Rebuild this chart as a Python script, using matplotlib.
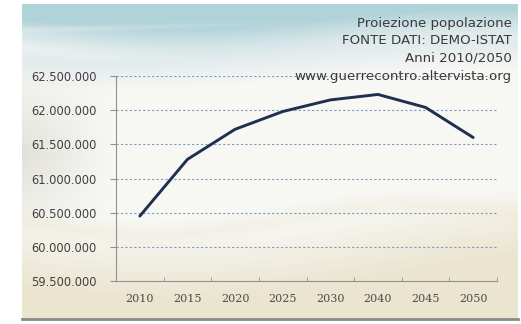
import numpy as np
import matplotlib
matplotlib.use("Agg")
import matplotlib.pyplot as plt
from matplotlib.ticker import FuncFormatter, FixedLocator

# Projected Italian resident population (DEMO-ISTAT)
years = ["2010", "2015", "2020", "2025", "2030", "2040", "2045", "2050"]
population = [60450000, 61280000, 61720000, 61980000, 62150000, 62230000, 62040000, 61600000]

y_ticks = [59500000, 60000000, 60500000, 61000000, 61500000, 62000000, 62500000]

title_lines = [
    "Proiezione popolazione",
    "FONTE DATI: DEMO-ISTAT",
    "Anni 2010/2050",
    "www.guerrecontro.altervista.org",
]

W, H = 521, 324
fig = plt.figure(figsize=(W / 100, H / 100), dpi=100)
fig.patch.set_facecolor("white")

# ---- decorative sky / sand backdrop ----
fx0, fy0, fx1, fy1 = 22, 4, 518, 320
bw, bh = fx1 - fx0, fy1 - fy0
yy, xx = np.mgrid[0:bh, 0:bw].astype(float)
u = xx / bw
v = yy / bh

def rgb(h):
    h = h.lstrip("#")
    return np.array([int(h[i:i + 2], 16) / 255 for i in (0, 2, 4)])

sky = rgb("#b0d2d9")
mist = rgb("#e2ebed")
white = rgb("#f7f7f4")
sand = rgb("#ebe5cf")
grey = rgb("#d9d7cd")

img = np.zeros((bh, bw, 3))
# vertical blend: sky -> mist -> white -> sand
t_sky = np.clip(1 - (yy - 14 - 10 * np.sin(u * 5.0)) / 30, 0, 1)
t_mist = np.clip(1 - np.abs(yy - 48 - 10 * np.sin(u * 4 + 1)) / 28, 0, 1)
t_sand = np.clip((yy - 200 - 25 * np.sin(u * 3.5 + 0.5)) / 70, 0, 1)
img[:] = white
img = img * (1 - t_mist[..., None]) + mist * t_mist[..., None]
img = img * (1 - t_sky[..., None]) + sky * t_sky[..., None]
# lighter streak through the sky
t_streak = 0.6 * np.clip(1 - np.abs(yy - 26 + 14 * u) / 5, 0, 1) * np.clip(1 - u * 1.6, 0, 1)
img = img * (1 - t_streak[..., None]) + mist * t_streak[..., None]
img = img * (1 - t_sand[..., None]) + sand * t_sand[..., None]
# soft grey shading on the left edge
t_grey = np.clip(1 - xx / 90, 0, 1) * np.clip(1 - np.abs(yy - 150) / 90, 0, 1)
img = img * (1 - 0.7 * t_grey[..., None]) + grey * 0.7 * t_grey[..., None]
# faint beige band across the middle
t_band = 0.35 * np.clip(1 - np.abs(yy - 215 - 15 * np.sin(u * 6)) / 14, 0, 1)
img = img * (1 - t_band[..., None]) + sand * t_band[..., None]

bg = fig.add_axes([fx0 / W, 1 - fy1 / H, bw / W, bh / H])
bg.imshow(np.clip(img, 0, 1), aspect="auto", interpolation="bilinear")
bg.set_axis_off()
# frame shadow at the bottom
fig.add_artist(plt.Line2D([fx0 / W, fx1 / W], [1 - (fy1 - 1) / H] * 2,
                          color="#8a8a8a", lw=2.0, transform=fig.transFigure))

# ---- plot area ----
left, right, top, bottom = 116, 497, 76, 281
ax = fig.add_axes([left / W, 1 - bottom / H, (right - left) / W, (bottom - top) / H])
ax.patch.set_alpha(0)

x = np.arange(len(years))
ax.plot(x, population, color="#1f2f4f", lw=2.1, solid_capstyle="round", zorder=3)

ax.set_xlim(-0.5, len(years) - 0.5)
ax.set_ylim(y_ticks[0], y_ticks[-1])
ax.set_yticks(y_ticks)
ax.yaxis.set_major_formatter(FuncFormatter(lambda v, p: f"{int(v):,}".replace(",", ".")))

for yv in y_ticks[1:]:
    ax.axhline(yv, color="#7d9cbc", lw=0.8, ls=(0, (2.0, 2.0)), zorder=1)

ax.set_xticks(x)
ax.set_xticklabels(years)
ax.xaxis.set_minor_locator(FixedLocator(np.arange(-0.5, len(years), 1.0)))
ax.tick_params(axis="x", which="major", length=0, pad=9,
               labelsize=8, labelcolor="#4a4a4a")
ax.tick_params(axis="x", which="minor", length=3, direction="in", color="#909090")
for lab in ax.get_xticklabels():
    lab.set_family("DejaVu Serif")
ax.tick_params(axis="y", length=4, direction="out", color="#909090",
               labelsize=8.3, labelcolor="#404040", pad=10)

for s in ("top", "right"):
    ax.spines[s].set_visible(False)
for s in ("left", "bottom"):
    ax.spines[s].set_color("#909090")
    ax.spines[s].set_linewidth(0.8)

# caption block, top right
for i, line in enumerate(title_lines):
    fig.text(512 / W, 1 - (23 + 17.7 * i) / H, line, ha="right", va="center",
             fontsize=9.6, color="#3a3a3a")

fig.savefig("out.png", dpi=100)
